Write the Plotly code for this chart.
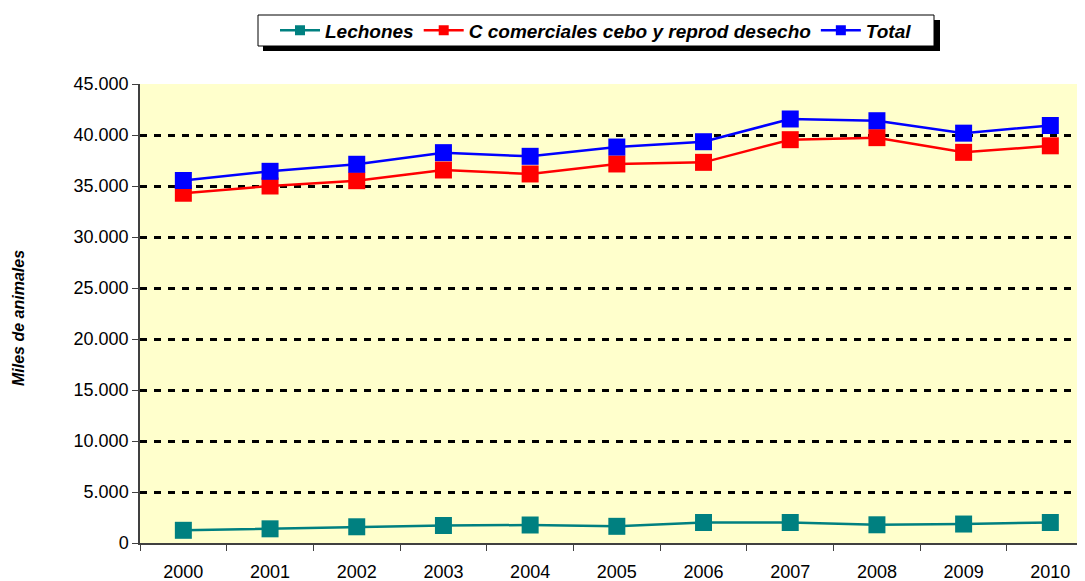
import plotly.graph_objects as go

years = ['2000', '2001', '2002', '2003', '2004', '2005',
         '2006', '2007', '2008', '2009', '2010']
lechones = [1245, 1390, 1590, 1715, 1765, 1635, 2010, 2010, 1785, 1860, 2010]
comerciales = [34290, 35000, 35520, 36570, 36180, 37160,
               37320, 39540, 39740, 38300, 38940]
total = [35540, 36440, 37130, 38270, 37910, 38820,
         39340, 41570, 41400, 40180, 40930]

series = [
    ('Lechones', lechones, '#008080'),
    ('C comerciales cebo y reprod desecho', comerciales, '#FF0000'),
    ('Total', total, '#0000FF'),
]

# page body has an 8px margin, so the figure is shifted by 8px
OFF = 8
W, H = 1085 - OFF, 581 - OFF
L, R, T, B = 140 - OFF, 0, 84 - OFF, 38
pw, ph = W - L - R, H - T - B


def px_x(x):
    return (x - OFF - L) / pw


def px_y(y):
    return (H - B - (y - OFF)) / ph


fig = go.Figure()
for name, vals, col in series:
    fig.add_trace(go.Scatter(
        x=years, y=vals, name=name, mode='lines+markers', showlegend=False,
        line=dict(color=col, width=2.5),
        marker=dict(symbol='square', size=17, color=col),
    ))
    # legend entry with a smaller marker
    fig.add_trace(go.Scatter(
        x=[None], y=[None], name=name, mode='lines+markers',
        line=dict(color=col, width=2.5),
        marker=dict(symbol='square', size=10, color=col),
    ))

# legend box with shadow
lx0, lx1, ly0, ly1 = 258, 934, 15, 46
fig.add_shape(type='rect', xref='paper', yref='paper', layer='below',
              x0=px_x(lx0 + 5), x1=px_x(lx1 + 6),
              y0=px_y(ly1 + 5), y1=px_y(ly0 + 5),
              fillcolor='black', line=dict(width=0))
fig.add_shape(type='rect', xref='paper', yref='paper', layer='below',
              x0=px_x(lx0), x1=px_x(lx1), y0=px_y(ly1), y1=px_y(ly0),
              fillcolor='white', line=dict(color='black', width=1))

fig.add_annotation(text='Miles de animales', xref='paper', yref='paper',
                   x=px_x(18), y=px_y(318), xanchor='center', yanchor='middle',
                   textangle=-90, showarrow=False,
                   font=dict(family='Liberation Sans, Arial', size=16,
                             color='black', weight='bold', style='italic'))

fig.update_layout(
    width=W, height=H,
    margin=dict(l=L, r=R, t=T, b=B),
    paper_bgcolor='white', plot_bgcolor='#FFFFCC',
    separators=',.',
    font=dict(family='Liberation Sans, Arial', size=18, color='black'),
    showlegend=True,
    legend=dict(orientation='h', x=px_x((lx0 + lx1) / 2), xanchor='center',
                y=px_y((ly0 + ly1) / 2), yanchor='middle',
                bgcolor='rgba(0,0,0,0)', borderwidth=0,
                font=dict(size=19, weight='bold', style='italic'),
                itemwidth=40, tracegroupgap=0),
)
fig.update_xaxes(type='category', range=[-0.5, 10.4], tickson='boundaries',
                 ticks='outside', ticklen=6, tickcolor='#404040',
                 ticklabelstandoff=12, automargin=False,
                 showline=True, linecolor='#404040', linewidth=1.5,
                 showgrid=False, zeroline=False)
fig.update_yaxes(range=[0, 45000], dtick=5000, tickformat=',d',
                 ticks='outside', ticklen=6, tickcolor='#404040',
                 automargin=False,
                 showline=True, linecolor='#404040', linewidth=1.5,
                 showgrid=True, gridcolor='black', gridwidth=2.5,
                 griddash='7px,7px', zeroline=False)

fig.write_html('out.html')
